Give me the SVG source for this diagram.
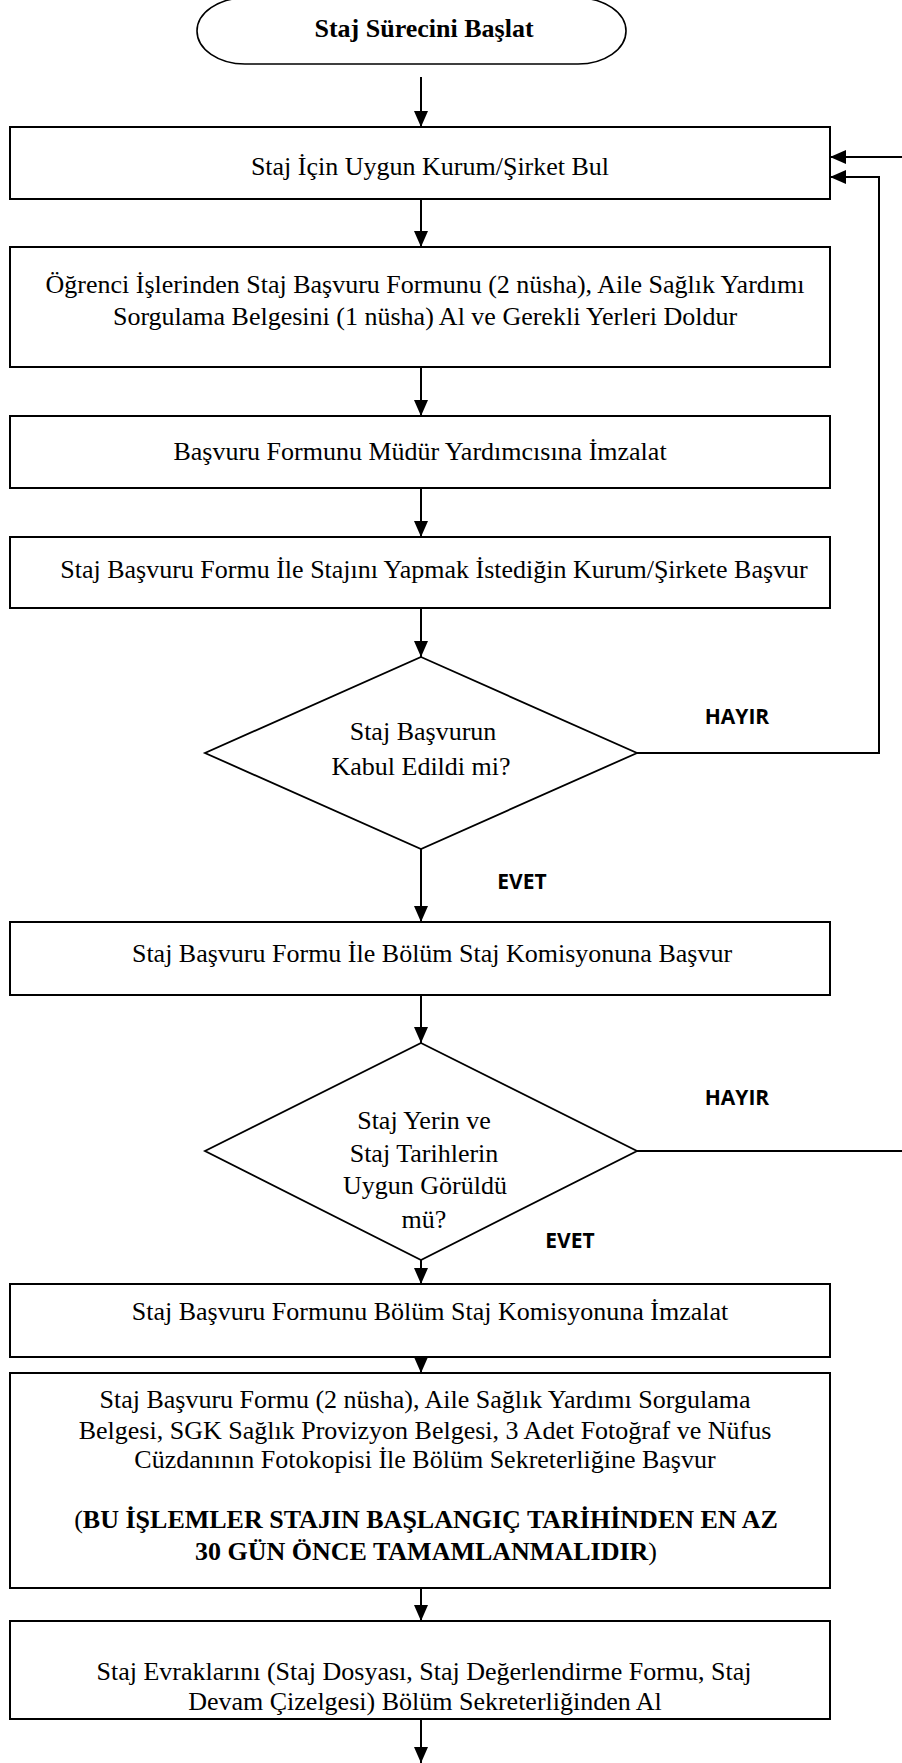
<svg xmlns="http://www.w3.org/2000/svg" width="902" height="1763" viewBox="0 0 902 1763">
<defs>
<marker id="arr" markerUnits="userSpaceOnUse" markerWidth="16" markerHeight="14" refX="16" refY="7" orient="auto">
<path d="M0,0 L16,7 L0,14 Z" fill="#000"/>
</marker>
<style>
.box{fill:#fff;stroke:#000;stroke-width:2}
.dia{fill:#fff;stroke:#000;stroke-width:1.8}
.term{fill:#fff;stroke:#000;stroke-width:1.6}
.t{font-family:"Liberation Serif","Times New Roman",serif;font-size:26px;fill:#000;text-anchor:middle}
.tb{font-family:"Liberation Serif","Times New Roman",serif;font-size:26px;font-weight:bold;fill:#000;text-anchor:middle}
.lbl{font-family:"Open Sans","DejaVu Sans",sans-serif;font-size:21px;font-weight:bold;fill:#000;text-anchor:middle}
.c{fill:none;stroke:#000;stroke-width:2}
.ca{fill:none;stroke:#000;stroke-width:2;marker-end:url(#arr)}
</style>
</defs>
<rect width="902" height="1763" fill="#fff"/>

<g id="connectors">
<line class="ca" x1="421" y1="77" x2="421" y2="127"/>
<line class="ca" x1="421" y1="199" x2="421" y2="247"/>
<line class="ca" x1="421" y1="367" x2="421" y2="416"/>
<line class="ca" x1="421" y1="488" x2="421" y2="537"/>
<line class="ca" x1="421" y1="608" x2="421" y2="657"/>
<line class="ca" x1="421" y1="849" x2="421" y2="922"/>
<polyline class="ca" points="637,753 879,753 879,177 830,177"/>
<line class="ca" x1="904" y1="157" x2="830" y2="157"/>
<line class="ca" x1="421" y1="995" x2="421" y2="1043"/>
<line class="c" x1="637" y1="1151" x2="904" y2="1151"/>
<line class="ca" x1="421" y1="1260" x2="421" y2="1284"/>
<line class="ca" x1="421" y1="1357" x2="421" y2="1373"/>
<line class="ca" x1="421" y1="1588" x2="421" y2="1621"/>
<line class="ca" x1="421" y1="1719" x2="421" y2="1763"/>
<text class="lbl" x="737" y="724">HAYIR</text>
<text class="lbl" x="522" y="889">EVET</text>
<text class="lbl" x="737" y="1105">HAYIR</text>
<text class="lbl" x="570" y="1248">EVET</text>
</g>

<g id="start">
<rect class="term" x="197" y="-2" width="429" height="66" rx="48" ry="33"/>
<text class="tb" x="424" y="37">Staj Sürecini Başlat</text>
</g>

<g id="n1">
<rect class="box" x="10" y="127" width="820" height="72"/>
<text class="t" x="430" y="175">Staj İçin Uygun Kurum/Şirket Bul</text>
</g>

<g id="n2">
<rect class="box" x="10" y="247" width="820" height="120"/>
<text class="t" x="425" y="293">Öğrenci İşlerinden Staj Başvuru Formunu (2 nüsha), Aile Sağlık Yardımı</text>
<text class="t" x="425" y="325">Sorgulama Belgesini (1 nüsha) Al ve Gerekli Yerleri Doldur</text>
</g>

<g id="n3">
<rect class="box" x="10" y="416" width="820" height="72"/>
<text class="t" x="420" y="460">Başvuru Formunu Müdür Yardımcısına İmzalat</text>
</g>

<g id="n4">
<rect class="box" x="10" y="537" width="820" height="71"/>
<text class="t" x="434" y="578">Staj Başvuru Formu İle Stajını Yapmak İstediğin Kurum/Şirkete Başvur</text>
</g>

<g id="d1">
<polygon class="dia" points="421,657 637,753 421,849 205,753"/>
<text class="t" x="423" y="740">Staj Başvurun</text>
<text class="t" x="421" y="775">Kabul Edildi mi?</text>
</g>

<g id="n5">
<rect class="box" x="10" y="922" width="820" height="73"/>
<text class="t" x="432" y="962">Staj Başvuru Formu İle Bölüm Staj Komisyonuna Başvur</text>
</g>

<g id="d2">
<polygon class="dia" points="421,1043 637,1151 421,1260 205,1151"/>
<text class="t" x="424" y="1129">Staj Yerin ve</text>
<text class="t" x="424" y="1162">Staj Tarihlerin</text>
<text class="t" x="425" y="1194">Uygun Görüldü</text>
<text class="t" x="424" y="1228">mü?</text>
</g>

<g id="n6">
<rect class="box" x="10" y="1284" width="820" height="73"/>
<text class="t" x="430" y="1320">Staj Başvuru Formunu Bölüm Staj Komisyonuna İmzalat</text>
</g>

<g id="n7">
<rect class="box" x="10" y="1373" width="820" height="215"/>
<text class="t" x="425" y="1408">Staj Başvuru Formu (2 nüsha), Aile Sağlık Yardımı Sorgulama</text>
<text class="t" x="425" y="1439">Belgesi, SGK Sağlık Provizyon Belgesi, 3 Adet Fotoğraf ve Nüfus</text>
<text class="t" x="425" y="1468">Cüzdanının Fotokopisi İle Bölüm Sekreterliğine Başvur</text>
<text class="t" x="426" y="1528">(<tspan font-weight="bold">BU İŞLEMLER STAJIN BAŞLANGIÇ TARİHİNDEN EN AZ</tspan></text>
<text class="t" x="426" y="1560"><tspan font-weight="bold">30 GÜN ÖNCE TAMAMLANMALIDIR</tspan>)</text>
</g>

<g id="n8">
<rect class="box" x="10" y="1621" width="820" height="98"/>
<text class="t" x="424" y="1680">Staj Evraklarını (Staj Dosyası, Staj Değerlendirme Formu, Staj</text>
<text class="t" x="425" y="1710">Devam Çizelgesi) Bölüm Sekreterliğinden Al</text>
</g>
</svg>
